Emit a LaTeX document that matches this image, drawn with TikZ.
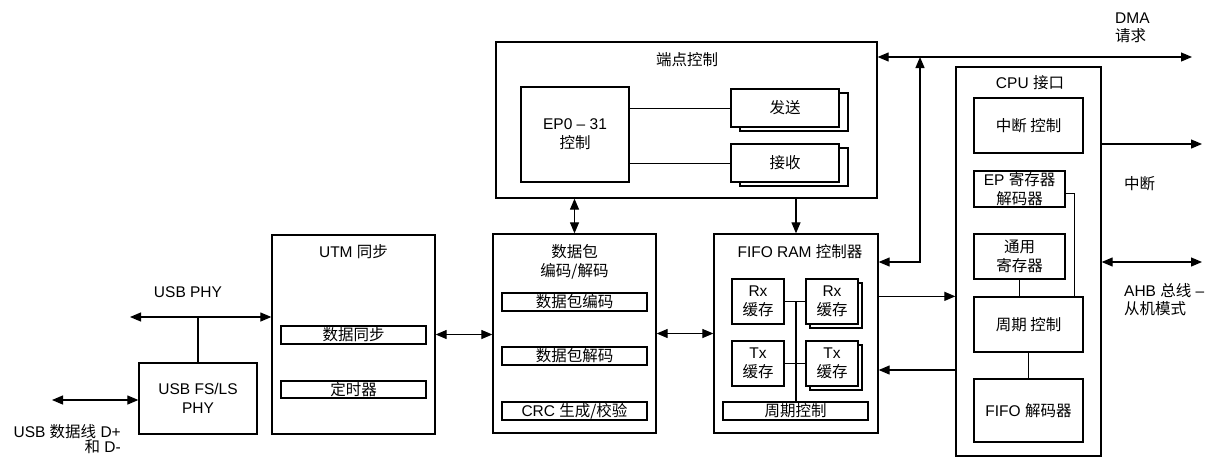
\documentclass[tikz,border=0pt]{standalone}
\usepackage{fontspec}
\setmainfont{Liberation Sans}
\newfontfamily\cjk{Noto Sans CJK SC}
\newcommand\zh[1]{{\cjk #1}}
\usetikzlibrary{arrows.meta,calc}
\begin{document}
\begin{tikzpicture}[x=1pt,y=-1pt,
  every node/.style={font=\fontsize{15.5}{19}\selectfont, inner sep=0pt, align=center},
  bx/.style 2 args={draw, line width=1.3pt, fill=white, minimum width=#1, minimum height=#2},
  ln/.style={line width=1pt},
  ar/.style={line width=1.2pt, -{Triangle[length=11pt,width=9pt]}},
  dar/.style={line width=1.2pt, {Triangle[length=11pt,width=9pt]}-{Triangle[length=11pt,width=9pt]}}]
\useasboundingbox (0,0) rectangle (1212,458);

% USB FS/LS PHY
\node[bx={118pt}{71pt}] (phy) at (198,398.5) {USB FS/LS\\PHY};

% UTM
\node[bx={163pt}{199pt}] (utm) at (353.5,334.5) {};
\node (utmT) at (353.5,252) {UTM \zh{同步}};
\node[bx={145pt}{18pt}] (sync) at (353.5,335) {\zh{数据同步}};
\node[bx={145pt}{17pt}] (timer) at (353.5,389.5) {\zh{定时器}};

% packet
\node[bx={163pt}{199pt}] (pkt) at (574.5,333.5) {};
\node (pktT) at (574.5,261.5) {\zh{数据包}\\\zh{编码/解码}};
\node[bx={145pt}{18pt}] (enc) at (574.5,302) {\zh{数据包编码}};
\node[bx={145pt}{18pt}] (dec) at (574.5,356) {\zh{数据包解码}};
\node[bx={145pt}{18pt}] (crc) at (574.5,411) {CRC \zh{生成/校验}};

% FIFO RAM
\node[bx={164pt}{199pt}] (fifo) at (796,333.5) {};
\node (fifoT) at (800,252) {FIFO RAM \zh{控制器}};
\node[bx={52pt}{45pt}] (rx1) at (758,301.5) {Rx\\\zh{缓存}};
\node[bx={52pt}{45pt}] (rx2s) at (836,305.5) {};
\node[bx={52pt}{45pt}] (rx2) at (832,301.5) {Rx\\\zh{缓存}};
\node[bx={52pt}{45pt}] (tx1) at (758,363.5) {Tx\\\zh{缓存}};
\node[bx={52pt}{45pt}] (tx2s) at (836,367.5) {};
\node[bx={52pt}{45pt}] (tx2) at (832,363.5) {Tx\\\zh{缓存}};
\node[bx={145pt}{18pt}] (cyc) at (795.5,411) {\zh{周期控制}};
\coordinate (busT) at (796,301.5);
\draw[line width=1.3pt] (busT) -- (busT |- cyc.north);
\draw[ln] (rx1.east) -- (rx2.west);
\draw[ln] (tx1.east) -- (tx2.west);

% endpoint control
\node[bx={381pt}{156pt}] (ep) at (686.5,120) {};
\node (epT) at (687,60) {\zh{端点控制}};
\node[bx={108pt}{95pt}] (ep031) at (575,134.5) {EP0 – 31\\\zh{控制}};
\node[bx={108pt}{38pt}] (sends) at (794,112) {};
\node[bx={108pt}{38pt}] (send) at (785,108) {\zh{发送}};
\node[bx={108pt}{38pt}] (recvs) at (794,167) {};
\node[bx={108pt}{38pt}] (recv) at (785,163) {\zh{接收}};
\draw[ln] (ep031.east |- send) -- (send.west);
\draw[ln] (ep031.east |- recv) -- (recv.west);

% CPU interface
\node[bx={145pt}{389pt}] (cpu) at (1028.5,261.5) {};
\node (cpuT) at (1030,83) {CPU \zh{接口}};
\node[bx={109pt}{55pt}] (int) at (1028.5,125.5) {\zh{中断 控制}};
\node[bx={91pt}{36pt}] (epreg) at (1019.5,189) {EP \zh{寄存器}\\\zh{解码器}};
\node[bx={91pt}{45pt}] (gen) at (1019.5,256.5) {\zh{通用}\\\zh{寄存器}};
\node[bx={109pt}{55pt}] (cycc) at (1028.5,324.5) {\zh{周期 控制}};
\node[bx={109pt}{63pt}] (fdec) at (1028.5,410.5) {FIFO \zh{解码器}};
\coordinate (epc) at (1074,193);
\draw[ln] (epreg.east |- epc) -- (epc) -- (epc |- cycc.north);
\draw[ln] (gen.south) -- (gen.south |- cycc.north);
\draw[ln] (cycc.south) -- (cycc.south |- fdec.north);

% connectors
\coordinate (usbL) at (130,317);
\coordinate (usbJ) at (198,317);
\draw[dar] (usbL) -- (usbL -| utm.west);
\draw[ln, line width=1.2pt] (usbJ) -- (phy.north);
\coordinate (dl) at (52,400);
\draw[dar] (dl) -- (dl -| phy.west);
\draw[dar] (utm.east) -- (utm.east -| pkt.west);
\draw[dar] (pkt.east) -- (pkt.east -| fifo.west);
\draw[dar] (pkt.north |- ep.south) -- (pkt.north);
\draw[ar] (fifo.north |- ep.south) -- (fifo.north);

\coordinate (dmaR) at (1192,57);
\coordinate (dmaJ) at (920,57);
\coordinate (dmaB) at (920,262);
\draw[dar] (ep.east |- dmaR) -- (dmaR);
\draw[dar] (fifo.east |- dmaB) -- (dmaB) -- (dmaJ);
\draw[ar] (fifo.east |- cycc.north) -- (cpu.west |- cycc.north);
\coordinate (b370) at (0,370);
\draw[ar] (cpu.west |- b370) -- (fifo.east |- b370);
\coordinate (intR) at (1202,144);
\draw[ar] (cpu.east |- intR) -- (intR);
\coordinate (ahbR) at (1202,262);
\draw[dar] (cpu.east |- ahbR) -- (ahbR);

% labels
\node (lphy) at (188,292) {USB PHY};
\node[anchor=east, font=\fontsize{15.5}{15}\selectfont, align=right] (ldl) at (121,439.5) {USB \zh{数据线} D+\\\zh{和} D-};
\node[anchor=west, font=\fontsize{15.5}{18}\selectfont, align=left] (ldma) at (1115,28) {DMA\\\zh{请求}};
\node[anchor=west] (lint) at (1124,184) {\zh{中断}};
\node[anchor=west, font=\fontsize{15.5}{18}\selectfont, align=left] (lahb) at (1124,300) {AHB \zh{总线} –\\\zh{从机模式}};
\end{tikzpicture}
\end{document}
